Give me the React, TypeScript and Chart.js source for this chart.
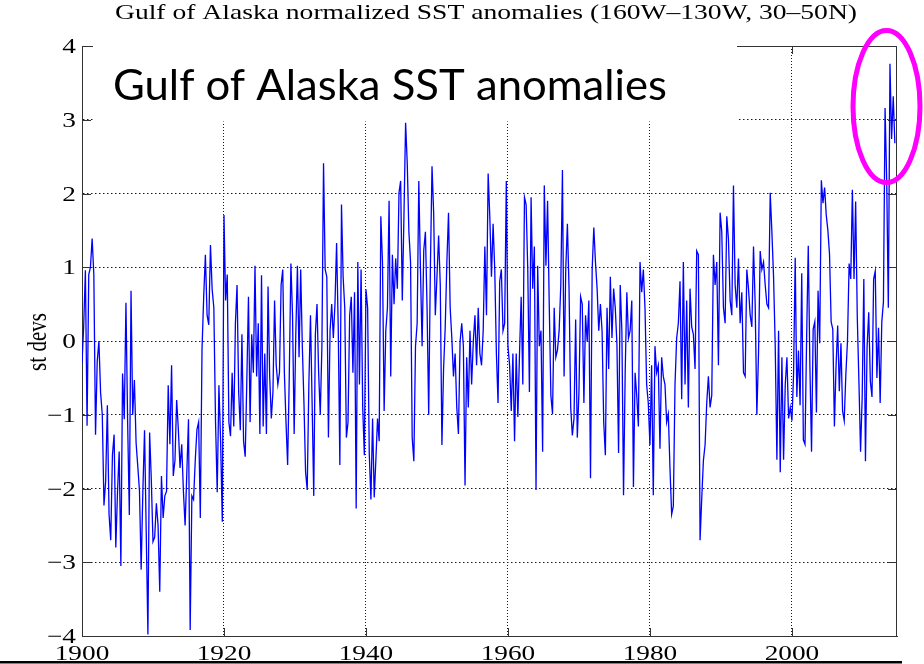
import React, { useEffect, useRef } from "react";
import { Chart, registerables } from "chart.js";

Chart.register(...registerables);

// ---------- text ----------
const TITLE = "Gulf of Alaska normalized SST anomalies (160W–130W, 30–50N)";
const OVERLAY_TEXT = "Gulf of Alaska SST anomalies";
const Y_LABEL = "st devs";

// ---------- axes ----------
const X_MIN = 1900;
const X_MAX = 2014.8;
const X_TICKS = [1900, 1920, 1940, 1960, 1980, 2000];
const Y_MIN = -4;
const Y_MAX = 4;
const Y_TICKS = [-4, -3, -2, -1, 0, 1, 2, 3, 4];

// ---------- series (normalized SST anomaly, st devs) ----------
// each block spans the years given in SEGMENT_SPANS
const ANOM_1900_1920 = [
  -0.3, 0.2, 0.96, -1.15, 0.9, 1.0, 1.39, 0.9, -1.27, -0.28, 0.0, -0.7, -1.0, -2.23, -1.9, -0.87,
  -2.35, -2.7, -1.55, -1.27, -2.8, -2.05, -1.5, -3.05, -0.44, -1.06, 0.52, -1.1, -2.36, 0.68, -1.0,
  -0.53, -1.38, -1.7, -2.03, -3.1, -2.04, -1.21, -2.6, -3.98, -1.24, -1.88, -2.72, -2.66, -2.2, -2.5,
  -3.4, -1.83, -2.4, -2.1, -2.04, -0.6, -1.4, -0.33, -1.83, -1.62, -0.8, -1.2, -1.72, -1.4, -2.04,
  -2.5, -1.8, -1.06, -3.92, -2.1, -2.15, -1.62, -1.2, -1.1, -2.4, -0.12, 0.6, 1.17, 0.35, 0.22, 1.3,
  0.7, 0.45, -1.1, -2.05, -0.6, -1.36, -2.45,
];
const ANOM_1920_1940 = [
  1.71, 0.55, 0.9, -1.1, -1.29, -0.43, -1.16, 0.24, 0.76, -0.69, -1.21, 0.09, -1.36, -1.57, -0.53,
  0.6, -1.1, 0.09, -0.43, 1.02, -0.48, 0.24, -1.26, 0.89, -1.16, -0.17, -1.26, 0.74, -0.48, -1.05,
  -0.69, 0.55, -0.33, -0.59, -0.43, 0.76, 0.97, -0.43, -1.1, -1.68, -0.48, 1.05, 0.35, -1.26, 0.09,
  1.02, -0.22, 0.97, -0.07, -0.84, -1.78, -2.02, -0.59, 0.35, -0.84, -2.1, 0.09, 0.5, -0.43, -1.0,
  -0.07, 2.41, 0.97, 0.87, -1.31, 0.14, 0.5, 0.04, 0.5, 1.33, 0.19, -1.68, 1.85, 0.87, 0.45, -1.31,
  -1.1, 0.35, 0.6, -0.43, 0.66, -2.27, 1.07, -0.59, 0.97, -0.9, -1.55,
];
const ANOM_1940_1960 = [
  0.7, 0.45, -1.53, -2.15, -1.05, -2.12, -1.61, -1.05, -1.36, 1.69, 1.07, -0.95, 0.14, 0.45, 1.9,
  -0.48, 1.17, 0.5, 1.12, 0.71, 2.01, 2.17, 0.55, 1.69, 2.96, 2.41, 1.48, 1.07, -1.31, -1.63, -0.07,
  0.24, 2.17, 0.97, -0.07, 1.23, 1.48, 0.45, -1.0, 0.97, 2.37, 1.74, 0.35, 0.87, 1.43, 0.76, -1.41,
  -0.38, 0.19, 1.07, 1.74, 0.45, 0.04, -0.48, -0.17, -0.9, -1.26, -0.01, 0.24, -0.07, -1.96, -0.22,
  -0.9, 0.14, -0.59, -0.01, 0.35, -0.33, 0.45, -0.17, -0.33, 0.14, 1.28, 0.35, 2.27, 1.69, 0.87,
  1.59, 0.97, -0.17, -0.84, 0.81, 0.97, 0.14, 0.24, 2.17,
];
const ANOM_1960_1980 = [
  -0.07, -0.33, -0.95, -0.17, -1.36, -0.17, -1.03, -0.17, 0.6, -0.59, 1.95, 1.85, 0.97, -0.69, 1.95,
  0.71, 1.28, -2.02, 1.02, -0.07, 0.14, -1.5, 2.11, 1.02, 1.9, 0.5, -0.74, -0.99, 0.45, -0.22, -0.12,
  0.14, 0.76, 2.32, -0.48, 0.97, 1.59, 0.71, -0.9, -1.28, -1.05, 0.29, -1.31, -0.69, 0.6, 0.5, -0.84,
  0.35, -0.01, 0.55, -1.86, 0.97, 1.54, 1.07, 0.71, 0.14, 0.5, 0.14, -1.1, -1.55, 0.45, -0.38, 0.87,
  0.04, 0.71, 0.45, -0.04, -1.52, 0.76, 0.14, -2.09, -0.43, 0.66, 0.04, 0.14, 0.55, -1.98, -0.43,
  -0.74, -1.16, 1.07, 0.66, 0.97, 0.45, -0.59, -0.84,
];
const ANOM_1980_2000 = [
  -1.41, -0.33, -2.09, -0.07, -0.43, -0.33, -1.46, -0.22, -0.48, -0.59, -1.1, -0.99, -1.73, -2.35,
  -2.24, -0.59, 0.04, 0.24, 0.81, -0.79, 1.07, -0.59, 0.55, -0.9, 0.71, 0.19, 0.09, -0.38, 1.22, 1.17,
  -2.7, -2.14, -1.62, -1.41, -0.84, -0.48, -0.9, -0.74, 1.17, 0.76, 1.07, -0.33, 1.74, 1.48, 0.45,
  0.24, 1.69, 1.38, 0.55, 0.35, 2.11, 0.76, 0.45, 1.12, 0.24, 0.66, -0.43, -0.48, 0.97, 0.71, 0.35,
  0.19, 1.28, 0.5, -1.0, -0.17, 1.22, 0.97, 1.07, 0.76, 0.5, 0.45, 2.01, 1.48, 0.87, -0.07, -1.61,
  0.14, -1.78, -0.22, -1.61, -0.59, -0.22, -1.05, -0.9,
];
const ANOM_2000_2014 = [
  -1.08, -0.45, 1.13, -0.76, -0.13, -0.87, 0.92, -1.34, -1.4, 0.05, 1.29, -0.34, -1.5, 0.16, 0.26,
  -0.97, 0.68, -0.03, 2.18, 1.87, 2.08, 1.71, 1.5, 1.18, 0.26, 0.16, -1.16, -0.34, 0.21, -0.68, -0.03,
  -0.95, -1.08, -0.45, 0.0, 1.05, 0.84, 2.05, 0.84, 1.89, 0.32, -0.55, -1.5, -0.76, 0.84, -1.63,
  -0.08, 0.39, -0.55, -0.76, 0.84, 0.95, -0.5, 0.18, -0.84, 0.26, 0.53, 3.16, 2.18, 0.45, 3.76, 2.74,
  3.32, 2.68,
];
// [start year, end year, values, endInclusive]
const SEGMENT_SPANS: [number, number, number[], boolean][] = [
  [1900, 1920, ANOM_1900_1920, false],
  [1920, 1940, ANOM_1920_1940, false],
  [1940, 1960, ANOM_1940_1960, false],
  [1960, 1980, ANOM_1960_1980, false],
  [1980, 2000, ANOM_1980_2000, false],
  [2000, 2014.5, ANOM_2000_2014, true],
];

// ---------- styling ----------
const LINE_BLUE = "#0000ff";
const AXIS_COLOR = "#333333";
const GRID_COLOR = "#1a1a1a";
const MAGENTA = "#ff00ff";
const SERIF = '"Liberation Serif", "Times New Roman", serif';
const STRETCH = 1.3; // the original figure is horizontally stretched

function buildPoints() {
  const pts: { x: number; y: number }[] = [];
  for (const [a, b, vals, incl] of SEGMENT_SPANS) {
    const n = incl ? vals.length - 1 : vals.length;
    const step = (b - a) / n;
    vals.forEach((v, i) => pts.push({ x: a + i * step, y: v }));
  }
  return pts;
}

function stretchedText(
  ctx: CanvasRenderingContext2D,
  text: string,
  x: number,
  y: number,
  align: CanvasTextAlign,
  sx: number
) {
  ctx.save();
  ctx.translate(x, y);
  ctx.scale(sx, 1);
  ctx.textAlign = align;
  ctx.textBaseline = "alphabetic";
  ctx.fillText(text, 0, 0);
  ctx.restore();
}

const fmtY = (v: number) => (v < 0 ? "\u2212" + Math.abs(v) : String(v));

const decorPlugin = {
  id: "decor",
  beforeDatasetsDraw(chart: any) {
    const { ctx, chartArea: ca, scales } = chart;
    const xs = scales.x;
    const ys = scales.y;
    ctx.save();
    ctx.strokeStyle = AXIS_COLOR;
    ctx.lineWidth = 1;
    ctx.beginPath();
    // top and right frame
    ctx.moveTo(ca.left, Math.round(ca.top) + 0.5);
    ctx.lineTo(ca.right, Math.round(ca.top) + 0.5);
    ctx.moveTo(Math.round(ca.right) - 0.5, ca.top);
    ctx.lineTo(Math.round(ca.right) - 0.5, ca.bottom);
    // inward ticks
    for (const v of Y_TICKS) {
      const py = Math.round(ys.getPixelForValue(v)) + 0.5;
      ctx.moveTo(ca.left, py);
      ctx.lineTo(ca.left + 9, py);
      ctx.moveTo(ca.right, py);
      ctx.lineTo(ca.right - 9, py);
    }
    for (const v of X_TICKS) {
      const px = Math.round(xs.getPixelForValue(v)) + 0.5;
      ctx.moveTo(px, ca.bottom);
      ctx.lineTo(px, ca.bottom - 8);
      ctx.moveTo(px, ca.top);
      ctx.lineTo(px, ca.top + 8);
    }
    ctx.stroke();
    // white text box pasted over the plot
    ctx.fillStyle = "#ffffff";
    ctx.fillRect(93, 36, 644, 85.5);
    ctx.restore();
  },
  afterDraw(chart: any) {
    const { ctx, scales } = chart;
    const xs = scales.x;
    const ys = scales.y;
    ctx.save();
    ctx.fillStyle = "#000000";
    ctx.font = `21px ${SERIF}`;
    // tick labels
    for (const t of ys.ticks) {
      const py = ys.getPixelForValue(t.value);
      stretchedText(ctx, fmtY(t.value), 76, py + 7, "right", STRETCH);
    }
    for (const t of xs.ticks) {
      const px = xs.getPixelForValue(t.value);
      stretchedText(ctx, String(t.value), px, 660, "center", STRETCH);
    }
    // figure title, fitted to its width in the picture
    const tw = ctx.measureText(TITLE).width;
    stretchedText(ctx, TITLE, 115, 18.5, "left", 742 / tw);
    // y axis label
    ctx.save();
    ctx.translate(46, 342);
    ctx.scale(STRETCH, 1);
    ctx.rotate(-Math.PI / 2);
    ctx.textAlign = "center";
    ctx.textBaseline = "alphabetic";
    ctx.fillText(Y_LABEL, 0, 0);
    ctx.restore();
    // slide overlay text
    ctx.font = `43px Lato, "Open Sans", sans-serif`;
    const w = ctx.measureText(OVERLAY_TEXT).width;
    stretchedText(ctx, OVERLAY_TEXT, 113, 99.5, "left", 554 / w);
    // magenta ellipse
    ctx.beginPath();
    ctx.ellipse(886.5, 106.5, 33.5, 76, 0, 0, Math.PI * 2);
    ctx.lineWidth = 5;
    ctx.strokeStyle = MAGENTA;
    ctx.stroke();
    // slide rule at bottom
    ctx.fillStyle = "#000000";
    ctx.fillRect(0, 661, 902, 2.5);
    ctx.restore();
  },
};

export default function App() {
  const ref = useRef<HTMLCanvasElement | null>(null);
  useEffect(() => {
    if (!ref.current) return;
    const chart = new Chart(ref.current, {
      type: "line",
      data: {
        datasets: [
          {
            data: buildPoints(),
            borderColor: LINE_BLUE,
            borderWidth: 1.3,
            pointRadius: 0,
            tension: 0,
            fill: false,
          },
        ],
      },
      options: {
        responsive: false,
        animation: false,
        devicePixelRatio: 1,
        layout: { padding: { left: 0, right: 27, top: 46, bottom: 0 } },
        plugins: {
          legend: { display: false },
          tooltip: { enabled: false },
          title: { display: false },
        },
        scales: {
          x: {
            type: "linear",
            min: X_MIN,
            max: X_MAX,
            afterBuildTicks: (s: any) => {
              s.ticks = X_TICKS.map((v) => ({ value: v }));
            },
            afterFit: (s: any) => {
              s.height = 28;
            },
            ticks: { display: false },
            grid: {
              drawTicks: false,
              lineWidth: 1,
              color: (c: any) =>
                c.tick && c.tick.value === X_MIN ? "rgba(0,0,0,0)" : GRID_COLOR,
            },
            border: { display: true, color: AXIS_COLOR, width: 1, dash: [1, 2] },
          },
          y: {
            type: "linear",
            min: Y_MIN,
            max: Y_MAX,
            afterBuildTicks: (s: any) => {
              s.ticks = Y_TICKS.map((v) => ({ value: v }));
            },
            afterFit: (s: any) => {
              s.width = 82;
            },
            ticks: { display: false },
            grid: {
              drawTicks: false,
              lineWidth: 1,
              color: (c: any) =>
                c.tick && (c.tick.value === Y_MIN || c.tick.value === Y_MAX)
                  ? "rgba(0,0,0,0)"
                  : GRID_COLOR,
            },
            border: { display: true, color: AXIS_COLOR, width: 1, dash: [1.5, 2.5] },
          },
        },
      },
      plugins: [decorPlugin],
    });
    return () => chart.destroy();
  }, []);
  return (
    <div style={{ position: "absolute", left: 0, top: 0, width: 924, height: 664, background: "#fff" }}>
      <canvas ref={ref} width={924} height={664} style={{ width: 924, height: 664, display: "block" }} />
    </div>
  );
}
